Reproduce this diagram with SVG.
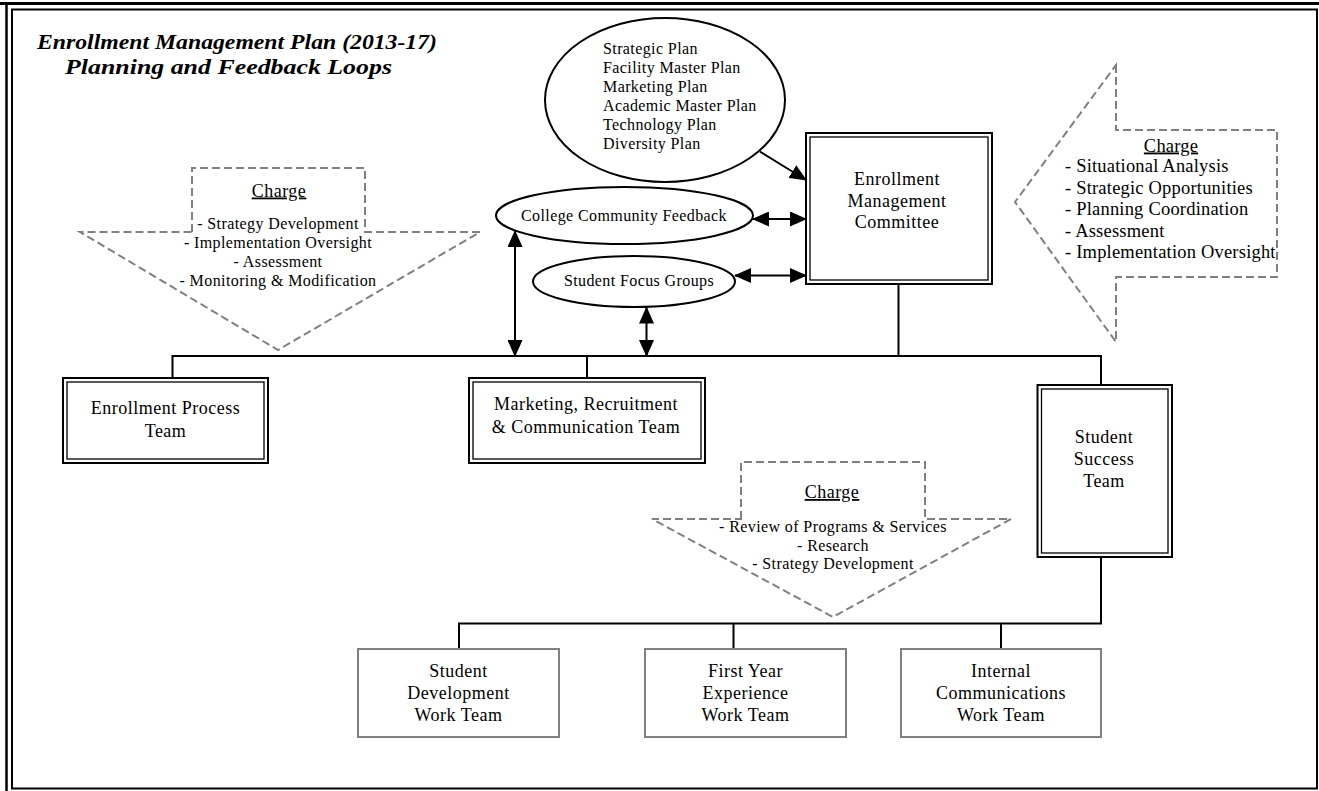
<svg xmlns="http://www.w3.org/2000/svg" width="1319" height="791" viewBox="0 0 1319 791">
<style>
text { font-family: "Liberation Serif", "Times New Roman", serif; fill: #000; }
.ttl { font-size: 20px; font-weight: bold; font-style: italic; }
.b18 { font-size: 18px; letter-spacing: 0.5px; text-anchor: middle; }
.s16 { font-size: 16px; letter-spacing: 0.4px; }
.r18 { font-size: 18.5px; letter-spacing: 0.2px; }
.mid { text-anchor: middle; }
.ul { text-decoration: underline; }
.dash { fill: none; stroke: #808080; stroke-width: 2; stroke-dasharray: 8 4; }
.ln { fill: none; stroke: #000; stroke-width: 2; }
.out { fill: #fff; stroke: #000; stroke-width: 2; }
.inn { fill: none; stroke: #000; stroke-width: 1.3; }
.ell { fill: #fff; stroke: #000; stroke-width: 2; }
.wt { fill: #fff; stroke: #808080; stroke-width: 2; }
</style>
<defs>
<marker id="ah" viewBox="0 0 17 15" refX="16" refY="7.5" markerWidth="17" markerHeight="15" markerUnits="userSpaceOnUse" orient="auto-start-reverse">
<path d="M0,0 L17,7.5 L0,15 z" fill="#000"/>
</marker>
</defs>
<rect width="1319" height="791" fill="#fff"/>

<g id="frame">
<path d="M0,3.5 H1319" stroke="#000" stroke-width="3"/>
<path d="M6.5,3.5 V791" stroke="#000" stroke-width="2.5"/>
<rect x="12" y="9.5" width="1305" height="779" fill="none" stroke="#000" stroke-width="2"/>
</g>

<g id="title">
<text class="ttl" x="37" y="49" textLength="400" lengthAdjust="spacingAndGlyphs">Enrollment Management Plan (2013-17)</text>
<text class="ttl" x="65" y="74" textLength="327" lengthAdjust="spacingAndGlyphs">Planning and Feedback Loops</text>
</g>

<g id="connectors">
<path class="ln" d="M172.5,378 V356 H1101 V385"/>
<path class="ln" d="M587,356 V378"/>
<path class="ln" d="M898.5,284 V356"/>
<path class="ln" d="M1101,557 V623.5 H459 V649"/>
<path class="ln" d="M733.5,623.5 V649"/>
<path class="ln" d="M1001,623.5 V649"/>
<path class="ln" d="M760,151.7 L806,180" marker-end="url(#ah)"/>
<path class="ln" d="M753,219 H806" marker-start="url(#ah)" marker-end="url(#ah)"/>
<path class="ln" d="M735,275.5 H806" marker-start="url(#ah)" marker-end="url(#ah)"/>
<path class="ln" d="M515,231 V356" marker-start="url(#ah)" marker-end="url(#ah)"/>
<path class="ln" d="M646.5,307.5 V356" marker-start="url(#ah)" marker-end="url(#ah)"/>
</g>

<g id="plans">
<ellipse class="ell" cx="665" cy="100" rx="120" ry="82"/>
<text class="s16" x="603" y="53.5">Strategic Plan</text>
<text class="s16" x="603" y="72.5">Facility Master Plan</text>
<text class="s16" x="603" y="91.5">Marketing Plan</text>
<text class="s16" x="603" y="110.5">Academic Master Plan</text>
<text class="s16" x="603" y="129.5">Technology Plan</text>
<text class="s16" x="603" y="148.5">Diversity Plan</text>
</g>

<g id="college-feedback">
<ellipse class="ell" cx="624.5" cy="215.5" rx="128.5" ry="28.5"/>
<text class="s16 mid" x="624" y="220.5">College Community Feedback</text>
</g>

<g id="focus-groups">
<ellipse class="ell" cx="634" cy="281.5" rx="101" ry="25.5"/>
<text class="s16 mid" x="639" y="286">Student Focus Groups</text>
</g>

<g id="emc">
<rect class="out" x="806" y="133" width="186" height="151"/>
<rect class="inn" x="810" y="137" width="178" height="143"/>
<text class="b18" x="897" y="185">Enrollment</text>
<text class="b18" x="897" y="206.5">Management</text>
<text class="b18" x="897" y="228">Committee</text>
</g>

<g id="charge-emc">
<path class="dash" d="M1116,65 V130 H1277 V277 H1116 V342 L1015,202 Z"/>
<text class="r18 mid ul" x="1171" y="151.5">Charge</text>
<text class="r18" x="1065" y="172">- Situational Analysis</text>
<text class="r18" x="1065" y="193.5">- Strategic Opportunities</text>
<text class="r18" x="1065" y="215">- Planning Coordination</text>
<text class="r18" x="1065" y="236.5">- Assessment</text>
<text class="r18" x="1065" y="258">- Implementation Oversight</text>
</g>

<g id="charge-teams">
<path class="dash" d="M192,232 V168 H365 V232 H480 L278,350 L80,232 Z"/>
<text class="b18 ul" x="279" y="196.5">Charge</text>
<text class="s16 mid" x="278" y="229">- Strategy Development</text>
<text class="s16 mid" x="278" y="248">- Implementation Oversight</text>
<text class="s16 mid" x="278" y="267">- Assessment</text>
<text class="s16 mid" x="278" y="286">- Monitoring &amp; Modification</text>
</g>

<g id="enrollment-process">
<rect class="out" x="63" y="378" width="205" height="85"/>
<rect class="inn" x="67" y="382" width="197" height="77"/>
<text class="b18" x="165.5" y="414">Enrollment Process</text>
<text class="b18" x="165.5" y="436.5">Team</text>
</g>

<g id="marketing">
<rect class="out" x="469" y="378" width="236" height="85"/>
<rect class="inn" x="473" y="382" width="228" height="77"/>
<text class="b18" x="586" y="410">Marketing, Recruitment</text>
<text class="b18" x="586" y="432.5">&amp; Communication Team</text>
</g>

<g id="student-success">
<rect class="out" x="1037.5" y="385" width="134.5" height="172"/>
<rect class="inn" x="1041.5" y="389" width="126.5" height="164"/>
<text class="b18" x="1104" y="443">Student</text>
<text class="b18" x="1104" y="465">Success</text>
<text class="b18" x="1104" y="487">Team</text>
</g>

<g id="charge-success">
<path class="dash" d="M741,519 V462 H925 V519 H1011 L833,617 L652,519 Z"/>
<text class="b18 ul" x="832" y="498">Charge</text>
<text class="s16 mid" x="833" y="532">- Review of Programs &amp; Services</text>
<text class="s16 mid" x="833" y="550.5">- Research</text>
<text class="s16 mid" x="833" y="569">- Strategy Development</text>
</g>

<g id="student-development">
<rect class="wt" x="358" y="649" width="201" height="88"/>
<text class="b18" x="458.5" y="677">Student</text>
<text class="b18" x="458.5" y="699">Development</text>
<text class="b18" x="458.5" y="721">Work Team</text>
</g>

<g id="first-year">
<rect class="wt" x="645" y="649" width="201" height="88"/>
<text class="b18" x="745.5" y="677">First Year</text>
<text class="b18" x="745.5" y="699">Experience</text>
<text class="b18" x="745.5" y="721">Work Team</text>
</g>

<g id="internal-comm">
<rect class="wt" x="901" y="649" width="200" height="88"/>
<text class="b18" x="1001" y="677">Internal</text>
<text class="b18" x="1001" y="699">Communications</text>
<text class="b18" x="1001" y="721">Work Team</text>
</g>
</svg>
